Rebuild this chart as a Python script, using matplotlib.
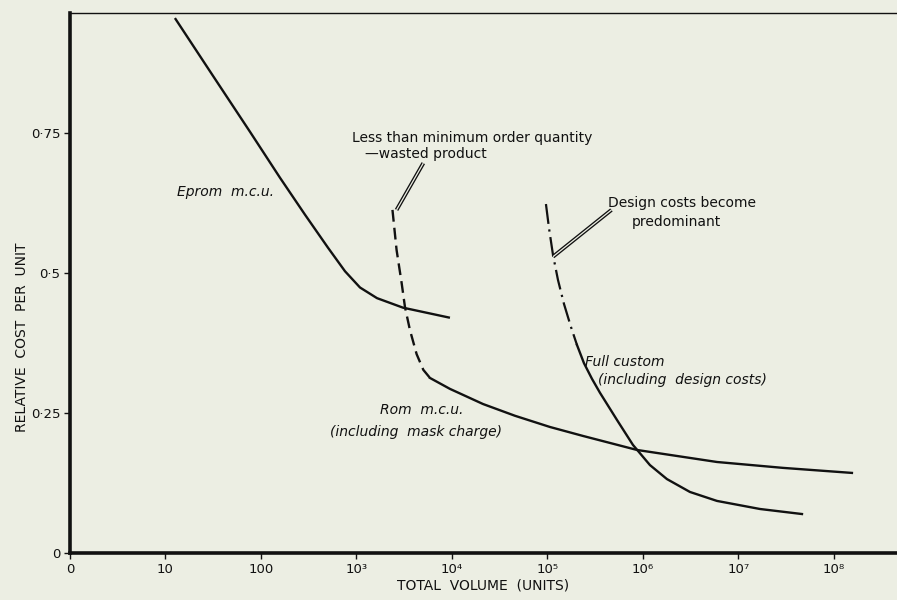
import matplotlib
matplotlib.use("Agg")
import matplotlib.pyplot as plt

# x values are log10(total volume); 0 on the axis stands for 1 unit
tick_pos = [0, 1, 2, 3, 4, 5, 6, 7, 8]
tick_labels = ["0", "10", "100", "10³", "10⁴", "10⁵", "10⁶", "10⁷", "10⁸"]
ytick_pos = [0, 0.25, 0.5, 0.75]
ytick_labels = ["0", "0·25", "0·5", "0·75"]

eprom_x = [1.099, 1.497, 1.885, 2.199, 2.461, 2.702, 2.880, 3.037, 3.215, 3.487, 3.979]
eprom_y = [0.955, 0.852, 0.752, 0.670, 0.604, 0.545, 0.503, 0.474, 0.455, 0.438, 0.420]

rom_dash_x = [3.377, 3.42, 3.473, 3.508, 3.56, 3.63, 3.70, 3.77]
rom_dash_y = [0.6125, 0.541, 0.482, 0.439, 0.398, 0.355, 0.327, 0.3125]
rom_x = [3.770, 3.979, 4.325, 4.660, 5.026, 5.372, 5.937, 6.775, 7.466, 8.188]
rom_y = [0.3125, 0.293, 0.266, 0.245, 0.225, 0.209, 0.184, 0.1625, 0.152, 0.143]

custom_dash_x = [4.984, 5.016, 5.058, 5.110, 5.173, 5.246, 5.309]
custom_dash_y = [0.623, 0.580, 0.532, 0.4875, 0.4446, 0.4036, 0.3714]
custom_x = [5.309, 5.382, 5.466, 5.550, 5.728, 5.895, 6.073, 6.251, 6.492, 6.775, 7.225, 7.665]
custom_y = [0.3714, 0.339, 0.311, 0.286, 0.2375, 0.193, 0.157, 0.132, 0.109, 0.093, 0.0786, 0.0696]

bg = "#eceee3"
ink = "#111111"

fig = plt.figure(figsize=(8.97, 6.0), dpi=100, facecolor=bg)
ax = fig.add_axes([0.078, 0.0783, 0.922, 0.9])
ax.set_facecolor(bg)

ax.plot(eprom_x, eprom_y, color=ink, lw=1.7, solid_capstyle="butt")
ax.plot(rom_dash_x, rom_dash_y, color=ink, lw=1.7, dashes=(5, 2.6))
ax.plot(rom_x, rom_y, color=ink, lw=1.7)
ax.plot(custom_dash_x, custom_dash_y, color=ink, lw=1.6, dashes=(9, 2.5, 1, 2.5))
ax.plot(custom_x, custom_y, color=ink, lw=1.7)

ax.set_xlim(0, 8.66)
ax.set_ylim(0, 0.964)

# double leader lines: thick dark line with a thin background line on top
def leader(x0, y0, x1, y1):
    ax.plot([x0, x1], [y0, y1], color=ink, lw=2.8, solid_capstyle="butt")
    ax.plot([x0, x1], [y0, y1], color=bg, lw=0.9, solid_capstyle="butt")

leader(3.42, 0.6125, 3.70, 0.696)
leader(5.058, 0.529, 5.67, 0.6125)

fs = 10
ax.text(2.953, 0.741, "Less than minimum order quantity", fontsize=fs,
        ha="left", va="center", color=ink)
ax.text(3.089, 0.7125, "—wasted product", fontsize=fs,
        ha="left", va="center", color=ink)
ax.text(5.634, 0.625, "Design costs become", fontsize=fs,
        ha="left", va="center", color=ink)
ax.text(5.885, 0.591, "predominant", fontsize=fs,
        ha="left", va="center", color=ink)
ax.text(1.12, 0.645, "Eprom  m.c.u.", fontsize=fs, style="italic",
        ha="left", va="center", color=ink)
ax.text(3.246, 0.255, "Rom  m.c.u.", fontsize=fs, style="italic",
        ha="left", va="center", color=ink)
ax.text(2.723, 0.216, "(including  mask charge)", fontsize=fs, style="italic",
        ha="left", va="center", color=ink)
ax.text(5.393, 0.341, "Full custom", fontsize=fs, style="italic",
        ha="left", va="center", color=ink)
ax.text(5.529, 0.309, "(including  design costs)", fontsize=fs, style="italic",
        ha="left", va="center", color=ink)

ax.set_xticks(tick_pos)
ax.set_xticklabels(tick_labels)
ax.set_yticks(ytick_pos)
ax.set_yticklabels(ytick_labels)
ax.tick_params(axis="both", direction="out", length=4, width=1, colors=ink,
               labelsize=9.5, pad=3)

ax.spines["right"].set_visible(False)
ax.spines["left"].set_linewidth(2.6)
ax.spines["bottom"].set_linewidth(2.6)
ax.spines["top"].set_linewidth(1.0)
for s in ax.spines.values():
    s.set_color(ink)

ax.set_xlabel("TOTAL  VOLUME  (UNITS)", fontsize=10, color=ink, labelpad=2)
ax.set_ylabel("RELATIVE  COST  PER  UNIT", fontsize=10, color=ink)
ax.yaxis.set_label_coords(-0.05, 0.40)

fig.savefig("out.png", dpi=100, facecolor=bg)
